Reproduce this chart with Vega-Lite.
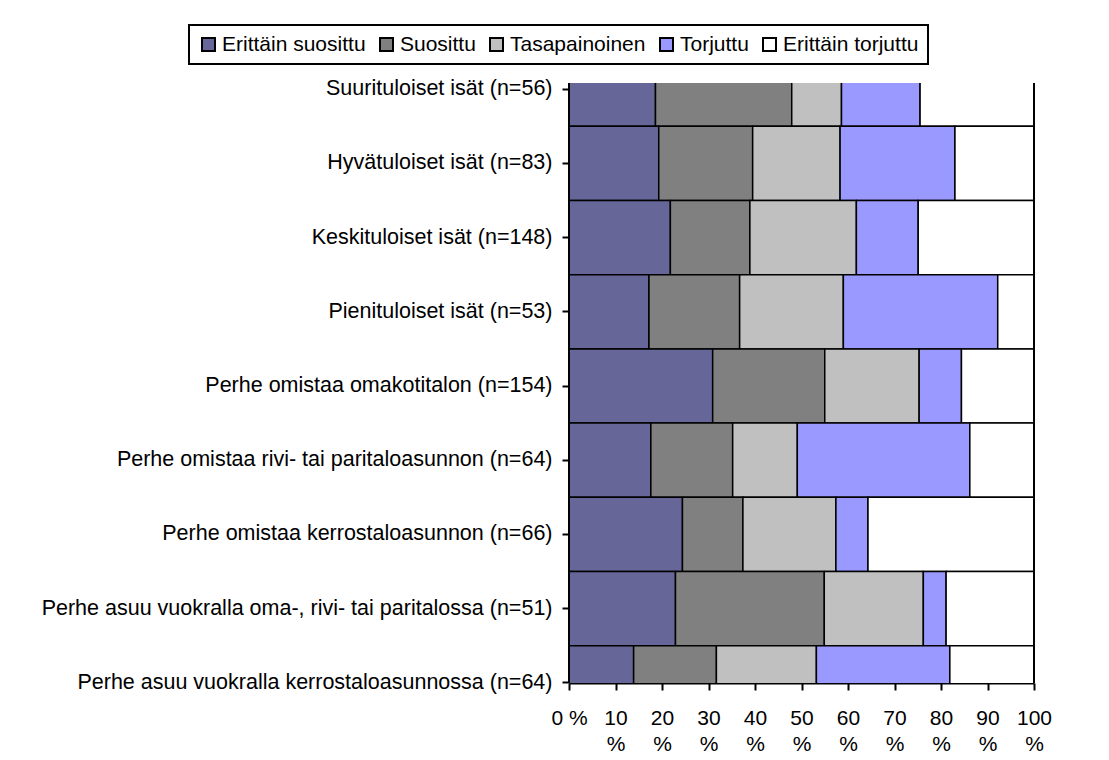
{
  "$schema": "https://vega.github.io/schema/vega-lite/v6.json",
  "width": 465,
  "height": 600,
  "autosize": {"type": "none"},
  "padding": {"left": 569, "top": 83, "right": 75, "bottom": 77},
  "background": "white",
  "config": {
    "font": "Liberation Sans",
    "view": {"stroke": null},
    "legend": {"strokeWidth": 2}
  },
  "data": {
    "values": [
      {"ryhma": "Suurituloiset isät (n=56)", "vastaus": "Erittäin suosittu", "j": 1, "osuus": 18.6},
      {"ryhma": "Suurituloiset isät (n=56)", "vastaus": "Suosittu", "j": 2, "osuus": 29.3},
      {"ryhma": "Suurituloiset isät (n=56)", "vastaus": "Tasapainoinen", "j": 3, "osuus": 10.7},
      {"ryhma": "Suurituloiset isät (n=56)", "vastaus": "Torjuttu", "j": 4, "osuus": 16.9},
      {"ryhma": "Suurituloiset isät (n=56)", "vastaus": "Erittäin torjuttu", "j": 5, "osuus": 24.5},
      {"ryhma": "Hyvätuloiset isät (n=83)", "vastaus": "Erittäin suosittu", "j": 1, "osuus": 19.3},
      {"ryhma": "Hyvätuloiset isät (n=83)", "vastaus": "Suosittu", "j": 2, "osuus": 20.2},
      {"ryhma": "Hyvätuloiset isät (n=83)", "vastaus": "Tasapainoinen", "j": 3, "osuus": 18.8},
      {"ryhma": "Hyvätuloiset isät (n=83)", "vastaus": "Torjuttu", "j": 4, "osuus": 24.7},
      {"ryhma": "Hyvätuloiset isät (n=83)", "vastaus": "Erittäin torjuttu", "j": 5, "osuus": 17.0},
      {"ryhma": "Keskituloiset isät (n=148)", "vastaus": "Erittäin suosittu", "j": 1, "osuus": 21.8},
      {"ryhma": "Keskituloiset isät (n=148)", "vastaus": "Suosittu", "j": 2, "osuus": 17.1},
      {"ryhma": "Keskituloiset isät (n=148)", "vastaus": "Tasapainoinen", "j": 3, "osuus": 22.9},
      {"ryhma": "Keskituloiset isät (n=148)", "vastaus": "Torjuttu", "j": 4, "osuus": 13.3},
      {"ryhma": "Keskituloiset isät (n=148)", "vastaus": "Erittäin torjuttu", "j": 5, "osuus": 24.9},
      {"ryhma": "Pienituloiset isät (n=53)", "vastaus": "Erittäin suosittu", "j": 1, "osuus": 17.2},
      {"ryhma": "Pienituloiset isät (n=53)", "vastaus": "Suosittu", "j": 2, "osuus": 19.5},
      {"ryhma": "Pienituloiset isät (n=53)", "vastaus": "Tasapainoinen", "j": 3, "osuus": 22.3},
      {"ryhma": "Pienituloiset isät (n=53)", "vastaus": "Torjuttu", "j": 4, "osuus": 33.2},
      {"ryhma": "Pienituloiset isät (n=53)", "vastaus": "Erittäin torjuttu", "j": 5, "osuus": 7.8},
      {"ryhma": "Perhe omistaa omakotitalon (n=154)", "vastaus": "Erittäin suosittu", "j": 1, "osuus": 30.9},
      {"ryhma": "Perhe omistaa omakotitalon (n=154)", "vastaus": "Suosittu", "j": 2, "osuus": 24.1},
      {"ryhma": "Perhe omistaa omakotitalon (n=154)", "vastaus": "Tasapainoinen", "j": 3, "osuus": 20.3},
      {"ryhma": "Perhe omistaa omakotitalon (n=154)", "vastaus": "Torjuttu", "j": 4, "osuus": 9.1},
      {"ryhma": "Perhe omistaa omakotitalon (n=154)", "vastaus": "Erittäin torjuttu", "j": 5, "osuus": 15.6},
      {"ryhma": "Perhe omistaa rivi- tai paritaloasunnon (n=64)", "vastaus": "Erittäin suosittu", "j": 1, "osuus": 17.6},
      {"ryhma": "Perhe omistaa rivi- tai paritaloasunnon (n=64)", "vastaus": "Suosittu", "j": 2, "osuus": 17.6},
      {"ryhma": "Perhe omistaa rivi- tai paritaloasunnon (n=64)", "vastaus": "Tasapainoinen", "j": 3, "osuus": 13.9},
      {"ryhma": "Perhe omistaa rivi- tai paritaloasunnon (n=64)", "vastaus": "Torjuttu", "j": 4, "osuus": 37.1},
      {"ryhma": "Perhe omistaa rivi- tai paritaloasunnon (n=64)", "vastaus": "Erittäin torjuttu", "j": 5, "osuus": 13.8},
      {"ryhma": "Perhe omistaa kerrostaloasunnon (n=66)", "vastaus": "Erittäin suosittu", "j": 1, "osuus": 24.4},
      {"ryhma": "Perhe omistaa kerrostaloasunnon (n=66)", "vastaus": "Suosittu", "j": 2, "osuus": 13.0},
      {"ryhma": "Perhe omistaa kerrostaloasunnon (n=66)", "vastaus": "Tasapainoinen", "j": 3, "osuus": 20.0},
      {"ryhma": "Perhe omistaa kerrostaloasunnon (n=66)", "vastaus": "Torjuttu", "j": 4, "osuus": 6.9},
      {"ryhma": "Perhe omistaa kerrostaloasunnon (n=66)", "vastaus": "Erittäin torjuttu", "j": 5, "osuus": 35.7},
      {"ryhma": "Perhe asuu vuokralla oma-, rivi- tai paritalossa (n=51)", "vastaus": "Erittäin suosittu", "j": 1, "osuus": 22.9},
      {"ryhma": "Perhe asuu vuokralla oma-, rivi- tai paritalossa (n=51)", "vastaus": "Suosittu", "j": 2, "osuus": 32.0},
      {"ryhma": "Perhe asuu vuokralla oma-, rivi- tai paritalossa (n=51)", "vastaus": "Tasapainoinen", "j": 3, "osuus": 21.3},
      {"ryhma": "Perhe asuu vuokralla oma-, rivi- tai paritalossa (n=51)", "vastaus": "Torjuttu", "j": 4, "osuus": 4.9},
      {"ryhma": "Perhe asuu vuokralla oma-, rivi- tai paritalossa (n=51)", "vastaus": "Erittäin torjuttu", "j": 5, "osuus": 18.9},
      {"ryhma": "Perhe asuu vuokralla kerrostaloasunnossa (n=64)", "vastaus": "Erittäin suosittu", "j": 1, "osuus": 13.9},
      {"ryhma": "Perhe asuu vuokralla kerrostaloasunnossa (n=64)", "vastaus": "Suosittu", "j": 2, "osuus": 17.8},
      {"ryhma": "Perhe asuu vuokralla kerrostaloasunnossa (n=64)", "vastaus": "Tasapainoinen", "j": 3, "osuus": 21.5},
      {"ryhma": "Perhe asuu vuokralla kerrostaloasunnossa (n=64)", "vastaus": "Torjuttu", "j": 4, "osuus": 28.7},
      {"ryhma": "Perhe asuu vuokralla kerrostaloasunnossa (n=64)", "vastaus": "Erittäin torjuttu", "j": 5, "osuus": 18.1}
    ]
  },
  "layer": [
    {
      "mark": {"type": "bar", "stroke": "black", "strokeWidth": 1.5, "clip": true},
      "encoding": {
        "y": {
          "field": "ryhma",
          "type": "nominal",
          "sort": null,
          "scale": {"range": [-31.1, 637.1], "paddingInner": 0, "paddingOuter": 0},
          "axis": {
            "title": null,
            "domain": false,
            "ticks": true,
            "tickSize": 7,
            "tickWidth": 2,
            "tickColor": "black",
            "labelFontSize": 21.5,
            "labelColor": "black",
            "labelPadding": 10,
            "labelLimit": 700
          }
        },
        "x": {
          "field": "osuus",
          "type": "quantitative",
          "stack": "zero",
          "scale": {"domain": [0, 100], "nice": false},
          "axis": {
            "title": null,
            "grid": false,
            "values": [0, 10, 20, 30, 40, 50, 60, 70, 80, 90, 100],
            "domainColor": "black",
            "domainWidth": 2,
            "tickSize": 7,
            "tickWidth": 2,
            "tickColor": "black",
            "labelFontSize": 21,
            "labelColor": "black",
            "labelPadding": 17,
            "labelLineHeight": 26,
            "labelFlush": false,
            "labelOverlap": false,
            "labelExpr": "datum.value == 0 ? '0 %' : [datum.value + '', '%']"
          }
        },
        "color": {
          "field": "vastaus",
          "type": "nominal",
          "scale": {
            "domain": ["Erittäin suosittu", "Suosittu", "Tasapainoinen", "Torjuttu", "Erittäin torjuttu"],
            "range": ["#666699", "#808080", "#C0C0C0", "#9999FF", "#FFFFFF"]
          },
          "legend": {
            "title": null,
            "orient": "none",
            "legendX": -380,
            "legendY": -58,
            "direction": "horizontal",
            "strokeColor": "black",
            "padding": 9,
            "symbolType": "square",
            "symbolSize": 169,
            "symbolStrokeColor": "black",
            "symbolStrokeWidth": 2,
            "labelFontSize": 21,
            "labelColor": "black",
            "labelOffset": 3,
            "columnPadding": 10
          }
        },
        "order": {"field": "j"}
      }
    },
    {
      "mark": {"type": "rule", "color": "black", "strokeWidth": 2},
      "encoding": {"x": {"datum": 0}}
    },
    {
      "mark": {"type": "rule", "color": "black", "strokeWidth": 2},
      "encoding": {"x": {"datum": 100}}
    }
  ]
}
